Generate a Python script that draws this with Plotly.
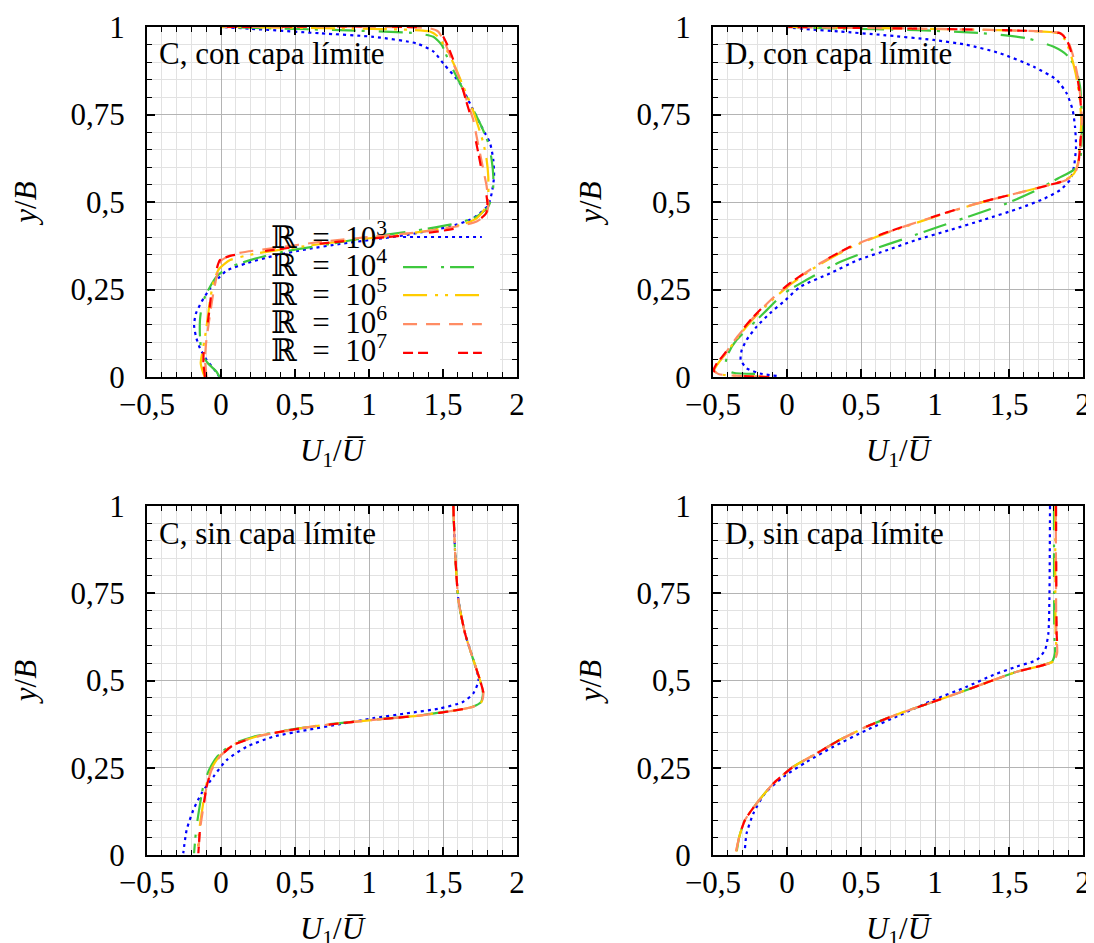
import plotly.graph_objects as go

# ---------------- tick labels ----------------
X_TICKS = [-0.5, 0, 0.5, 1, 1.5, 2]
X_TICK_TEXT = ["\u22120,5", "0", "0,5", "1", "1,5", "2"]
Y_TICKS = [0, 0.25, 0.5, 0.75, 1]
Y_TICK_TEXT = ["0", "0,25", "0,5", "0,75", "1"]

SERIES = ["1e3", "1e4", "1e5", "1e6", "1e7"]
LEGEND_LABELS = ["\u211D\u2002=\u200210<sup>3</sup>", "\u211D\u2002=\u200210<sup>4</sup>",
                 "\u211D\u2002=\u200210<sup>5</sup>", "\u211D\u2002=\u200210<sup>6</sup>",
                 "\u211D\u2002=\u200210<sup>7</sup>"]
PANEL_TITLES = ["C, con capa límite", "D, con capa límite", "C, sin capa límite", "D, sin capa límite"]

# ---------------- Panel C, con capa limite ----------------
C1_Y_1E3 = [0.000, 0.015, 0.049, 0.082, 0.115, 0.149, 0.182, 0.215, 0.253, 0.282, 0.304, 0.325, 0.346, 0.365,
            0.380, 0.393, 0.406, 0.430, 0.449, 0.468, 0.491, 0.525, 0.572, 0.620, 0.668, 0.715, 0.791, 0.839,
            0.896, 0.930, 0.953, 0.972, 0.982, 0.995, 1.000]
C1_X_1E3 = [-0.010, -0.034, -0.097, -0.142, -0.169, -0.182, -0.169, -0.131, -0.074, -0.018, 0.038, 0.173, 0.354,
            0.579, 0.804, 1.029, 1.255, 1.547, 1.682, 1.750, 1.806, 1.829, 1.845, 1.840, 1.818, 1.761, 1.671, 1.615,
            1.502, 1.435, 1.322, 1.029, 0.669, 0.200, 0.000]

C1_Y_1E4 = [0.000, 0.015, 0.040, 0.068, 0.115, 0.163, 0.200, 0.230, 0.258, 0.287, 0.310, 0.334, 0.358, 0.377,
            0.401, 0.422, 0.439, 0.458, 0.487, 0.525, 0.572, 0.620, 0.668, 0.715, 0.763, 0.810, 0.858, 0.906,
            0.949, 0.972, 0.982, 0.991, 0.996, 1.000]
C1_X_1E4 = [-0.010, -0.030, -0.090, -0.130, -0.142, -0.142, -0.131, -0.108, -0.074, -0.029, 0.038, 0.196, 0.421,
            0.691, 1.029, 1.367, 1.592, 1.727, 1.806, 1.836, 1.840, 1.829, 1.806, 1.761, 1.705, 1.649, 1.592, 1.536,
            1.491, 1.435, 1.322, 0.804, 0.354, 0.000]

C1_Y_1E5 = [0.000, 0.010, 0.039, 0.087, 0.134, 0.182, 0.230, 0.277, 0.310, 0.334, 0.353, 0.368, 0.387, 0.403,
            0.420, 0.434, 0.453, 0.482, 0.525, 0.572, 0.620, 0.668, 0.715, 0.772, 0.830, 0.887, 0.934, 0.972,
            0.987, 0.996, 1.000]
C1_X_1E5 = [-0.110, -0.119, -0.137, -0.119, -0.101, -0.086, -0.070, -0.047, -0.011, 0.061, 0.241, 0.466, 0.804,
            1.142, 1.435, 1.615, 1.727, 1.784, 1.806, 1.806, 1.795, 1.773, 1.739, 1.694, 1.637, 1.581, 1.525, 1.468,
            1.412, 0.804, 0.000]

C1_Y_1E6 = [0.000, 0.049, 0.096, 0.144, 0.191, 0.239, 0.287, 0.334, 0.353, 0.368, 0.387, 0.401, 0.415, 0.430,
            0.444, 0.468, 0.496, 0.544, 0.591, 0.639, 0.687, 0.734, 0.791, 0.849, 0.906, 0.953, 0.987, 0.996, 1.000]
C1_X_1E6 = [-0.097, -0.108, -0.101, -0.086, -0.070, -0.052, -0.029, 0.005, 0.106, 0.354, 0.691, 1.029, 1.367,
            1.592, 1.727, 1.795, 1.806, 1.795, 1.773, 1.750, 1.727, 1.705, 1.660, 1.615, 1.559, 1.514, 1.468, 1.412,
            0.000]

C1_Y_1E7 = [0.000, 0.039, 0.087, 0.134, 0.182, 0.230, 0.277, 0.334, 0.346, 0.363, 0.382, 0.396, 0.410, 0.425,
            0.444, 0.468, 0.496, 0.544, 0.591, 0.639, 0.687, 0.734, 0.791, 0.849, 0.906, 0.953, 0.987, 0.996, 1.000]
C1_X_1E7 = [-0.108, -0.119, -0.115, -0.097, -0.081, -0.068, -0.047, -0.007, 0.061, 0.354, 0.691, 1.029, 1.367,
            1.592, 1.727, 1.791, 1.800, 1.784, 1.761, 1.739, 1.716, 1.694, 1.655, 1.615, 1.570, 1.525, 1.480, 1.435,
            0.000]

# ---------------- Panel D, con capa limite ----------------
D1_Y_1E3 = [0.003, 0.010, 0.025, 0.049, 0.077, 0.106, 0.144, 0.182, 0.220, 0.258, 0.296, 0.334, 0.363, 0.391,
            0.420, 0.449, 0.482, 0.510, 0.534, 0.563, 0.601, 0.658, 0.715, 0.763, 0.810, 0.849, 0.887, 0.925,
            0.949, 0.963, 0.977, 0.987, 0.993, 0.999]
D1_X_1E3 = [-0.070, -0.182, -0.273, -0.313, -0.306, -0.273, -0.205, -0.115, -0.010, 0.090, 0.290, 0.480, 0.680,
            0.870, 1.101, 1.327, 1.570, 1.740, 1.845, 1.912, 1.939, 1.953, 1.946, 1.930, 1.890, 1.822, 1.664, 1.439,
            1.214, 0.989, 0.651, 0.358, 0.155, 0.009]

D1_Y_1E4 = [0.009, 0.012, 0.025, 0.068, 0.106, 0.144, 0.191, 0.239, 0.277, 0.325, 0.363, 0.396, 0.430, 0.463,
            0.496, 0.534, 0.568, 0.591, 0.620, 0.687, 0.753, 0.830, 0.887, 0.920, 0.944, 0.968, 0.982, 0.991,
            0.996, 1.000]
D1_X_1E4 = [-0.216, -0.363, -0.419, -0.396, -0.340, -0.250, -0.137, -0.020, 0.130, 0.340, 0.570, 0.800, 1.030,
            1.259, 1.484, 1.687, 1.833, 1.935, 1.980, 1.991, 1.991, 1.980, 1.946, 1.890, 1.799, 1.619, 1.327, 0.876,
            0.313, 0.009]

D1_Y_1E5 = [0.000, 0.003, 0.008, 0.018, 0.035, 0.068, 0.115, 0.172, 0.220, 0.268, 0.320, 0.372, 0.410, 0.458,
            0.496, 0.525, 0.549, 0.563, 0.582, 0.610, 0.658, 0.734, 0.801, 0.868, 0.925, 0.963, 0.982, 0.991,
            0.996, 1.000]
D1_X_1E5 = [-0.130, -0.310, -0.455, -0.492, -0.472, -0.412, -0.330, -0.215, -0.100, 0.035, 0.215, 0.440, 0.665,
            1.000, 1.290, 1.555, 1.770, 1.880, 1.940, 1.965, 1.978, 1.988, 1.976, 1.950, 1.915, 1.880, 1.835, 1.430,
            0.760, 0.009]

D1_Y_1E6 = [0.000, 0.003, 0.008, 0.018, 0.035, 0.068, 0.115, 0.172, 0.220, 0.268, 0.320, 0.372, 0.410, 0.458,
            0.496, 0.525, 0.549, 0.563, 0.582, 0.610, 0.658, 0.734, 0.801, 0.868, 0.925, 0.963, 0.982, 0.991,
            0.996, 1.000]
D1_X_1E6 = [-0.125, -0.315, -0.458, -0.494, -0.478, -0.416, -0.336, -0.222, -0.110, 0.025, 0.205, 0.430, 0.655,
            0.992, 1.285, 1.552, 1.775, 1.888, 1.945, 1.968, 1.982, 1.992, 1.982, 1.960, 1.928, 1.895, 1.850, 1.440,
            0.764, 0.009]

D1_Y_1E7 = [0.000, 0.003, 0.008, 0.018, 0.035, 0.068, 0.115, 0.172, 0.220, 0.268, 0.320, 0.372, 0.410, 0.458,
            0.496, 0.525, 0.549, 0.563, 0.582, 0.610, 0.658, 0.734, 0.801, 0.868, 0.925, 0.963, 0.982, 0.991,
            0.996, 1.000]
D1_X_1E7 = [-0.120, -0.320, -0.460, -0.495, -0.480, -0.419, -0.340, -0.227, -0.115, 0.020, 0.200, 0.426, 0.651,
            0.989, 1.282, 1.552, 1.777, 1.890, 1.946, 1.968, 1.980, 1.991, 1.980, 1.957, 1.923, 1.890, 1.845, 1.439,
            0.764, 0.009]

# ---------------- Panel C, sin capa limite ----------------
C2_Y = [1.000, 0.874, 0.731, 0.635, 0.559, 0.501, 0.463, 0.439, 0.425, 0.415, 0.401, 0.387, 0.372, 0.358,
        0.339, 0.315, 0.282, 0.244, 0.196, 0.138, 0.072, 0.005]
C2_Y_1E3 = [1.000, 0.874, 0.731, 0.635, 0.559, 0.501, 0.463, 0.439, 0.420, 0.406, 0.392, 0.375, 0.358, 0.339,
            0.310, 0.272, 0.224, 0.177, 0.129, 0.072, 0.005]
C2_X_1E3 = [1.570, 1.581, 1.604, 1.649, 1.705, 1.740, 1.705, 1.637, 1.480, 1.255, 1.029, 0.804, 0.579, 0.354,
            0.173, 0.038, -0.052, -0.131, -0.187, -0.232, -0.255]
C2_X_1E4 = [1.570, 1.581, 1.604, 1.649, 1.705, 1.750, 1.770, 1.758, 1.700, 1.585, 1.360, 1.020, 0.680, 0.450,
            0.220, 0.065, -0.025, -0.080, -0.120, -0.145, -0.168, -0.182]
C2_X_1E5 = [1.570, 1.581, 1.604, 1.649, 1.705, 1.750, 1.772, 1.760, 1.703, 1.590, 1.365, 1.027, 0.688, 0.462,
            0.236, 0.078, -0.012, -0.068, -0.102, -0.124, -0.147, -0.158]
C2_X_1E6 = [1.570, 1.581, 1.604, 1.649, 1.705, 1.750, 1.773, 1.761, 1.705, 1.592, 1.367, 1.029, 0.691, 0.466,
            0.241, 0.083, -0.007, -0.063, -0.097, -0.119, -0.142, -0.153]
C2_X_1E7 = [1.570, 1.581, 1.604, 1.649, 1.705, 1.750, 1.773, 1.761, 1.705, 1.592, 1.367, 1.029, 0.691, 0.466,
            0.241, 0.083, -0.007, -0.063, -0.097, -0.119, -0.142, -0.153]

# ---------------- Panel D, sin capa limite ----------------
D2_Y = [1.000, 0.635, 0.578, 0.554, 0.544, 0.525, 0.501, 0.473, 0.439, 0.406, 0.368, 0.330, 0.291, 0.253,
        0.205, 0.148, 0.100, 0.053, 0.010]
D2_Y_1E3 = [1.000, 0.731, 0.635, 0.587, 0.559, 0.540, 0.516, 0.482, 0.444, 0.401, 0.358, 0.310, 0.267, 0.224,
            0.177, 0.119, 0.062, 0.019]
D2_X_1E3 = [1.777, 1.773, 1.766, 1.743, 1.687, 1.552, 1.394, 1.214, 0.989, 0.764, 0.538, 0.313, 0.133, -0.025,
            -0.149, -0.227, -0.273, -0.284]
D2_X_1E4 = [1.804, 1.806, 1.810, 1.790, 1.725, 1.552, 1.394, 1.214, 0.989, 0.764, 0.538, 0.358, 0.200, 0.043,
            -0.092, -0.205, -0.284, -0.322, -0.340]
D2_X_1E5 = [1.812, 1.815, 1.820, 1.796, 1.730, 1.552, 1.394, 1.214, 0.989, 0.764, 0.538, 0.358, 0.200, 0.043,
            -0.092, -0.205, -0.284, -0.322, -0.343]
D2_X_1E6 = [1.816, 1.820, 1.825, 1.800, 1.732, 1.552, 1.394, 1.214, 0.989, 0.764, 0.538, 0.358, 0.200, 0.043,
            -0.092, -0.205, -0.284, -0.322, -0.345]
D2_X_1E7 = [1.818, 1.822, 1.826, 1.800, 1.732, 1.552, 1.394, 1.214, 0.989, 0.764, 0.538, 0.358, 0.200, 0.043,
            -0.092, -0.205, -0.284, -0.322, -0.345]

# ---------------- styles ----------------
COLORS = {"1e3": "#0000ff", "1e4": "#3ec83e", "1e5": "#ffcc00", "1e6": "#ff8c64", "1e7": "#ff0000"}
DASHES = {"1e3": "3px,4px", "1e4": "24px,14px,3px,6px", "1e5": "24px,8px,3px,7px,3px,7px",
          "1e6": "14px,9px", "1e7": "10px,5px,10px,30px"}
FONT = "Liberation Serif, Times New Roman, DejaVu Serif, serif"
FS = 31

panels = [
    ("x", "y", {"1e3": (C1_X_1E3, C1_Y_1E3), "1e4": (C1_X_1E4, C1_Y_1E4), "1e5": (C1_X_1E5, C1_Y_1E5),
                "1e6": (C1_X_1E6, C1_Y_1E6), "1e7": (C1_X_1E7, C1_Y_1E7)}),
    ("x2", "y2", {"1e3": (D1_X_1E3, D1_Y_1E3), "1e4": (D1_X_1E4, D1_Y_1E4), "1e5": (D1_X_1E5, D1_Y_1E5),
                  "1e6": (D1_X_1E6, D1_Y_1E6), "1e7": (D1_X_1E7, D1_Y_1E7)}),
    ("x3", "y3", {"1e3": (C2_X_1E3, C2_Y_1E3), "1e4": (C2_X_1E4, C2_Y), "1e5": (C2_X_1E5, C2_Y),
                  "1e6": (C2_X_1E6, C2_Y), "1e7": (C2_X_1E7, C2_Y)}),
    ("x4", "y4", {"1e3": (D2_X_1E3, D2_Y_1E3), "1e4": (D2_X_1E4, D2_Y), "1e5": (D2_X_1E5, D2_Y),
                  "1e6": (D2_X_1E6, D2_Y), "1e7": (D2_X_1E7, D2_Y)}),
]

fig = go.Figure()
for xa, ya, data in panels:
    for i, s in enumerate(SERIES):
        xs, ys = data[s]
        fig.add_trace(go.Scatter(
            x=xs, y=ys, xaxis=xa, yaxis=ya, mode="lines",
            name=LEGEND_LABELS[i], showlegend=False,
            line=dict(color=COLORS[s], width=2.2, dash=DASHES[s], shape="spline", smoothing=0.6),
        ))

# page body has an 8px default margin -> place plot areas 8px up/left of target
W, H = 1094, 943
OFF = 8
LEFT_DOM = [(147 - OFF) / W, (517 - OFF) / W]
RIGHT_DOM = [(713 - OFF) / W, (1083 - OFF) / W]
TOP_DOM = [1 - (377 - OFF) / H, 1 - (27 - OFF) / H]
BOT_DOM = [1 - (855 - OFF) / H, 1 - (506 - OFF) / H]

tickfont = dict(family=FONT, size=FS, color="black")
titlefont = dict(family=FONT, size=FS, color="black")


def xaxis(domain, anchor):
    return dict(domain=domain, anchor=anchor, range=[-0.5, 2], tickmode="array", tickvals=X_TICKS,
                ticktext=X_TICK_TEXT, ticks="inside", ticklen=8, tickwidth=1.5, tickcolor="black",
                showline=True, linecolor="black", linewidth=2, mirror="allticks", showgrid=True,
                gridcolor="#b4b4b4", gridwidth=1.3, zeroline=False, tickfont=tickfont,
                ticklabelstandoff=-1, automargin=False,
                minor=dict(tick0=-0.5, dtick=0.1, ticks="inside", ticklen=5, tickwidth=1, tickcolor="black",
                           showgrid=True, gridcolor="#e2e2e2", gridwidth=1),
                title=dict(text="<i>U</i><sub>1</sub>/<i>U\u0305</i>", font=titlefont, standoff=18))


def yaxis(domain, anchor):
    return dict(domain=domain, anchor=anchor, range=[0, 1], tickmode="array", tickvals=Y_TICKS,
                ticktext=Y_TICK_TEXT, ticks="inside", ticklen=8, tickwidth=1.5, tickcolor="black",
                showline=True, linecolor="black", linewidth=2, mirror="allticks", showgrid=True,
                gridcolor="#b4b4b4", gridwidth=1.3, zeroline=False, tickfont=tickfont,
                ticklabelstandoff=14, automargin=False,
                minor=dict(tick0=0, dtick=0.05, ticks="inside", ticklen=5, tickwidth=1, tickcolor="black",
                           showgrid=True, gridcolor="#e2e2e2", gridwidth=1),
                title=dict(text="<i>y</i>/<i>B</i>", font=titlefont, standoff=26))


fig.update_layout(
    width=W, height=H, margin=dict(l=0, r=0, t=0, b=0, autoexpand=False),
    paper_bgcolor="white", plot_bgcolor="white", showlegend=False,
    font=dict(family=FONT, size=FS, color="black"),
    xaxis=xaxis(LEFT_DOM, "y"), yaxis=yaxis(TOP_DOM, "x"),
    xaxis2=xaxis(RIGHT_DOM, "y2"), yaxis2=yaxis(TOP_DOM, "x2"),
    xaxis3=xaxis(LEFT_DOM, "y3"), yaxis3=yaxis(BOT_DOM, "x3"),
    xaxis4=xaxis(RIGHT_DOM, "y4"), yaxis4=yaxis(BOT_DOM, "x4"),
)

annotations = []
shapes = []
# panel titles
TITLE_Y = [0.923, 0.923, 0.92, 0.92]
for (xa, ya, _), title, ty in zip(panels, PANEL_TITLES, TITLE_Y):
    annotations.append(dict(text=title, xref=f"{xa} domain", yref=f"{ya} domain", x=0.028, y=ty,
                            xanchor="left", yanchor="middle", showarrow=False,
                            font=dict(family=FONT, size=FS, color="black")))

# custom legend inside panel C (key sample drawn to the right of the label)
LEG_BOX_X = [0.33, 1.885]
LEG_BOX_Y = [0.014, 0.449]
LEG_KEY_X = [1.23, 1.7625]
LEG_TEXT_Y = [0.403, 0.323, 0.240, 0.160, 0.080]
LEG_LINE_Y = [0.400, 0.314, 0.234, 0.151, 0.069]
shapes.append(dict(type="rect", xref="x", yref="y", x0=LEG_BOX_X[0], x1=LEG_BOX_X[1],
                   y0=LEG_BOX_Y[0], y1=LEG_BOX_Y[1], fillcolor="white", line=dict(width=0), layer="between"))
for i, s in enumerate(SERIES):
    annotations.append(dict(text=LEGEND_LABELS[i], xref="x domain", yref="y domain", x=0.33, y=LEG_TEXT_Y[i],
                            xanchor="left", yanchor="middle", showarrow=False,
                            font=dict(family=FONT, size=FS, color="black")))
    shapes.append(dict(type="line", xref="x", yref="y", x0=LEG_KEY_X[0], x1=LEG_KEY_X[1],
                       y0=LEG_LINE_Y[i], y1=LEG_LINE_Y[i],
                       line=dict(color=COLORS[s], width=2.2, dash=DASHES[s]), layer="above"))

fig.update_layout(annotations=annotations, shapes=shapes)
fig.write_html("out.html")
